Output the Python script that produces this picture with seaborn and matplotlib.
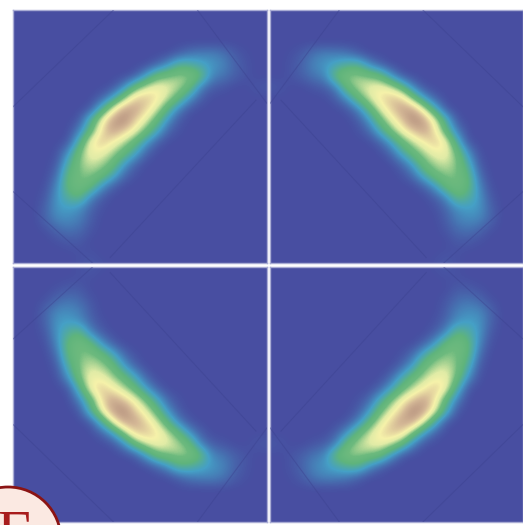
import numpy as np
import seaborn as sns
import matplotlib.pyplot as plt
from matplotlib.colors import LinearSegmentedColormap

# intensity, 24 x 24 grid (0-100)
grid_tl = [
    [0, 0, 0, 0, 0, 0, 0, 0, 0, 0, 0, 0, 0, 0, 0, 0, 0, 0, 0, 0, 0, 0, 0, 0],
    [0, 0, 0, 0, 0, 0, 0, 0, 0, 0, 0, 0, 0, 0, 0, 0, 0, 0, 0, 0, 0, 0, 0, 0],
    [0, 0, 0, 0, 0, 0, 0, 0, 0, 0, 0, 0, 0, 0, 0, 0, 0, 0, 0, 0, 0, 0, 0, 0],
    [0, 0, 0, 0, 0, 0, 0, 0, 0, 0, 0, 0, 0, 0, 0, 0, 0, 0, 0, 0, 0, 0, 0, 0],
    [0, 0, 0, 0, 0, 0, 0, 0, 0, 0, 0, 0, 0, 0, 0, 4, 10, 12, 13, 10, 4, 1, 0, 0],
    [0, 0, 0, 0, 0, 0, 0, 0, 0, 0, 0, 0, 0, 5, 16, 33, 30, 24, 18, 14, 6, 2, 0, 0],
    [0, 0, 0, 0, 0, 0, 0, 0, 0, 0, 0, 2, 18, 42, 48, 52, 52, 40, 14, 10, 5, 2, 0, 0],
    [0, 0, 0, 0, 0, 0, 0, 0, 0, 1, 12, 38, 58, 66, 62, 56, 42, 12, 4, 2, 0, 0, 2, 3],
    [0, 0, 0, 0, 0, 0, 0, 0, 4, 18, 46, 76, 80, 72, 58, 40, 16, 4, 0, 0, 0, 0, 0, 0],
    [0, 0, 0, 0, 0, 0, 0, 2, 26, 60, 88, 90, 76, 60, 36, 12, 2, 0, 0, 0, 0, 0, 0, 0],
    [0, 0, 0, 0, 0, 0, 2, 28, 62, 90, 100, 78, 62, 42, 16, 3, 0, 0, 0, 0, 0, 0, 0, 0],
    [0, 0, 0, 0, 0, 0, 12, 38, 72, 90, 78, 64, 46, 24, 6, 1, 0, 0, 0, 0, 0, 0, 0, 0],
    [0, 0, 0, 0, 0, 2, 28, 66, 80, 68, 56, 42, 20, 5, 0, 0, 0, 0, 0, 0, 0, 0, 0, 0],
    [0, 0, 0, 0, 1, 16, 46, 66, 64, 54, 42, 24, 6, 0, 0, 0, 0, 0, 0, 0, 0, 0, 0, 0],
    [0, 0, 0, 0, 3, 28, 50, 58, 54, 44, 20, 6, 0, 0, 0, 0, 0, 0, 0, 0, 0, 0, 0, 0],
    [0, 0, 0, 0, 8, 38, 48, 50, 44, 26, 8, 1, 0, 0, 0, 0, 0, 0, 0, 0, 0, 0, 0, 0],
    [0, 0, 0, 1, 14, 40, 48, 42, 18, 5, 0, 0, 0, 0, 0, 0, 0, 0, 0, 0, 0, 0, 0, 0],
    [0, 0, 0, 3, 18, 30, 38, 14, 4, 0, 0, 0, 0, 0, 0, 0, 0, 0, 0, 0, 0, 0, 0, 0],
    [0, 0, 0, 6, 18, 20, 16, 6, 1, 0, 0, 0, 0, 0, 0, 0, 0, 0, 0, 0, 0, 0, 0, 0],
    [0, 0, 0, 6, 14, 15, 12, 4, 0, 0, 0, 0, 0, 0, 0, 0, 0, 0, 0, 0, 0, 0, 0, 0],
    [0, 0, 0, 1, 6, 9, 7, 2, 0, 0, 0, 0, 0, 0, 0, 0, 0, 0, 0, 0, 0, 0, 0, 0],
    [0, 0, 0, 0, 1, 3, 3, 0, 0, 0, 0, 0, 0, 0, 0, 0, 0, 0, 0, 0, 0, 0, 0, 0],
    [0, 0, 0, 0, 0, 0, 1, 1, 0, 0, 0, 0, 0, 0, 0, 0, 0, 0, 0, 0, 0, 0, 0, 0],
    [0, 0, 0, 0, 0, 0, 1, 3, 1, 0, 0, 0, 0, 0, 0, 0, 0, 0, 0, 0, 0, 0, 0, 0],
]

# faint diagonal lines in the top-left panel, grid units
diag_x = [[0, 9.1], [16.7, 23], [0, 7.2], [8.8, 22]]
diag_y = [[8.8, 0], [0, 8.5], [16.5, 23], [22.5, 8.2]]

cmap = LinearSegmentedColormap.from_list("blobs", [
    (0.0, "#484ea1"), (0.2, "#45a0c6"), (0.36, "#5fb47c"), (0.47, "#6dba7e"), (0.6, "#e0eba6"),
    (0.68, "#f6f2aa"), (0.82, "#d4b896"), (1.0, "#ab8478")])

W, H = 523, 525
fig = plt.figure(figsize=(W / 100, H / 100), dpi=100, facecolor="white")

# left, top, right, bottom in pixels, flip x, flip y
panels = [(13, 10, 267, 263, False, False), (270, 10, 523, 263, True, False),
          (13, 267, 267, 522, False, True), (270, 267, 523, 522, True, True)]

for left, top, right, bottom, flipx, flipy in panels:
    ax = fig.add_axes([left / W, 1 - bottom / H, (right - left) / W, (bottom - top) / H])
    vals = np.array(grid_tl, dtype=float)
    if flipx:
        vals = vals[:, ::-1]
    if flipy:
        vals = vals[::-1, :]
    sns.heatmap(vals, ax=ax, cmap=cmap, vmin=0, vmax=100, cbar=False,
                xticklabels=False, yticklabels=False)
    # same values again, smoothed on screen the way the blurry original looks
    ax.imshow(vals, cmap=cmap, vmin=0, vmax=100, aspect="auto", interpolation="bicubic",
              interpolation_stage="data", extent=(-0.5, 23.5, 23.5, -0.5), zorder=2)
    ax.set_xlim(0, 23)
    ax.set_ylim(23, 0)
    for xs, ys in zip(diag_x, diag_y):
        xs = [23 - v for v in xs] if flipx else xs
        ys = [23 - v for v in ys] if flipy else ys
        ax.plot(xs, ys, color="#3c4290", lw=0.8, alpha=0.45, zorder=3)
    for sp in ax.spines.values():
        sp.set_visible(True)
        sp.set_color("#a9acd4")
        sp.set_linewidth(1)

# logo badge, cut by the corner of the picture
over = fig.add_axes([0, 0, 1, 1], facecolor="none")
over.set_xlim(0, W)
over.set_ylim(H, 0)
over.axis("off")
over.add_patch(plt.Circle((8, 540), 53, facecolor="#fbe9e2", edgecolor="#8b1414", lw=2))
over.text(15, 510, "E", color="#a81c1c", family="Liberation Serif", fontsize=44,
          ha="center", va="top", clip_on=True)

fig.savefig("out.png", dpi=100)
